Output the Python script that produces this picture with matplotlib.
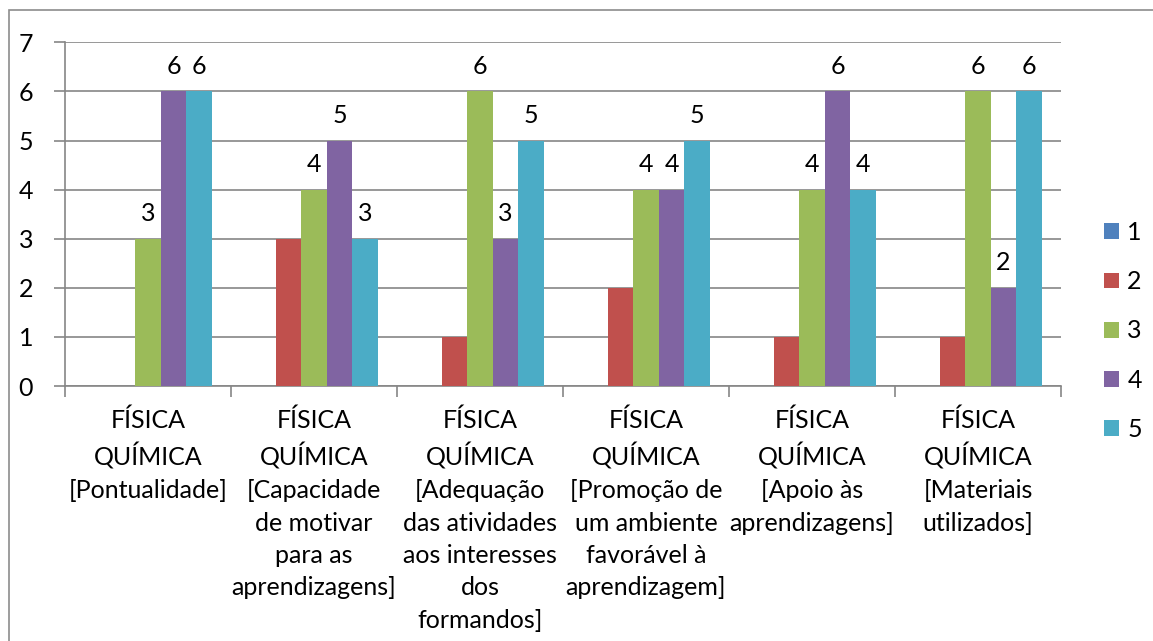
import matplotlib
matplotlib.use("Agg")
import matplotlib.pyplot as plt
import numpy as np
from matplotlib.patches import Rectangle

categories = [
    "FÍSICA\nQUÍMICA\n[Pontualidade]",
    "FÍSICA\nQUÍMICA\n[Capacidade\nde motivar\npara as\naprendizagens]",
    "FÍSICA\nQUÍMICA\n[Adequação\ndas atividades\naos interesses\ndos\nformandos]",
    "FÍSICA\nQUÍMICA\n[Promoção de\num ambiente\nfavorável à\naprendizagem]",
    "FÍSICA\nQUÍMICA\n[Apoio às\naprendizagens]",
    "FÍSICA\nQUÍMICA\n[Materiais\nutilizados]",
]
series_names = ["1", "2", "3", "4", "5"]
s1 = [0, 0, 0, 0, 0, 0]
s2 = [0, 3, 1, 2, 1, 1]
s3 = [3, 4, 6, 4, 4, 6]
s4 = [6, 5, 3, 4, 6, 2]
s5 = [6, 3, 5, 5, 4, 6]
series = [s1, s2, s3, s4, s5]
labeled = [False, False, True, True, True]
colors = ["#4F81BD", "#C0504D", "#9BBB59", "#8064A2", "#4BACC6"]
yticks = [0, 1, 2, 3, 4, 5, 6, 7]

plt.rcParams['font.family'] = ['Lato', 'DejaVu Sans']
FS = 18
W, H = 1153, 641
fig = plt.figure(figsize=(W / 100, H / 100), dpi=100)
ax = fig.add_axes([65 / W, 1 - 386 / H, (1061 - 65) / W, (386 - 42.3) / H])

grid_c = "#868686"
n = len(categories)
x = np.arange(n)
w = 1 / 6.5
handles = []
for j, (vals, name, col, lab) in enumerate(zip(series, series_names, colors, labeled)):
    bars = ax.bar(x + (j - 2) * w, vals, width=w, color=col, label=name, zorder=3, linewidth=0)
    handles.append(bars)
    if lab:
        for b, v in zip(bars, vals):
            if v > 0:
                ax.annotate(str(v), (b.get_x() + b.get_width() / 2, v), xytext=(0, 10),
                            textcoords="offset points", ha="center", va="bottom",
                            fontsize=FS, color="black")

ax.set_xlim(-0.5, n - 0.5)
ax.set_ylim(0, 7)
ax.set_yticks(yticks)
ax.set_yticklabels([str(t) for t in yticks], fontsize=FS)
ax.yaxis.grid(True, color=grid_c, linewidth=1.2, zorder=0)
ax.set_axisbelow(True)
ax.set_xticks(x)
ax.set_xticklabels(categories, fontsize=FS, linespacing=1.49, va="top")
ax.tick_params(axis="x", length=0, pad=16)
ax.set_xticks(np.arange(-0.5, n, 1.0), minor=True)
ax.tick_params(axis="x", which="minor", length=8, color=grid_c, width=1.2, direction="out")
ax.tick_params(axis="y", length=8, color=grid_c, width=1.2, pad=15)
for s in ["top", "right"]:
    ax.spines[s].set_visible(False)
for s in ["left", "bottom"]:
    ax.spines[s].set_color(grid_c)
    ax.spines[s].set_linewidth(1.2)

leg = ax.legend(handles=handles, loc="center left", bbox_to_anchor=(1081 / W, 1 - 331 / H),
                bbox_transform=fig.transFigure, frameon=False, fontsize=FS,
                handlelength=0.6, handleheight=0.6, handletextpad=0.35, labelspacing=1.05)

fig.patches.append(Rectangle((9 / W, -0.1), 1.2, 1 - 10 / H + 0.1, transform=fig.transFigure,
                             fill=False, edgecolor="#8c8c8c", linewidth=1.2))
fig.savefig("out.png", dpi=100)
